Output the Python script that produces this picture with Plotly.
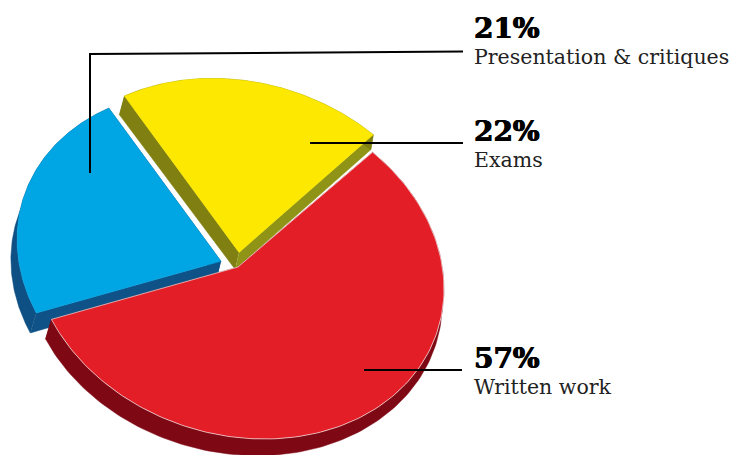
import numpy as np
import plotly.graph_objects as go

# Data
categories = ["Written work", "Presentation & critiques", "Exams"]
labelled_percent = [57, 21, 22]
drawn_share = [56.7, 22.7, 20.4]   # share of the ellipse each slice actually occupies
pull = [0.0, 0.086, 0.086]
radius_scale = [1.0, 0.99, 1.012]

top_colors = ["#e31e26", "#00a5e3", "#fce800"]
arc_side = ["#7e0814", "#0e5083", "#7f8011"]
start_edge_side = ["#7d0613", "#0f5288", "#7f8011"]
end_edge_side = ["#6e0510", "#0f5288", "#8f9416"]
top_outline = ["rgba(255,255,255,0.8)", None, None]

CENTER = np.array([238.0, 267.0])
RX, SHEAR, RY = 206.0, 22.0, 170.6
START_DEG = -49.2


def to_screen(t):
    return RX * np.cos(t), SHEAR * np.cos(t) + RY * np.sin(t)


def depth(x):
    x = np.asarray(x, dtype=float)
    return -6 + (x - 30) * 3.5 / 343, 20 - (x - 30) * 5 / 343


def face(xs, ys, color, line=None, width=0):
    return go.Scatter(x=xs, y=ys, mode="lines", fill="toself", fillcolor=color,
                      line=dict(color=line or color, width=width if line else 0.5),
                      hoverinfo="skip", showlegend=False)


angles = np.deg2rad(START_DEG + np.cumsum([0] + drawn_share) * 3.6)
fig = go.Figure()
slices = []
for i in range(3):
    t0, t1 = angles[i], angles[i + 1]
    mid = (t0 + t1) / 2
    ox, oy = to_screen(mid)
    apex = CENTER + pull[i] * np.array([ox, oy])
    t = np.linspace(t0, t1, 160)
    ax, ay = to_screen(t)
    slices.append((apex[0] + radius_scale[i] * ax, apex[1] + radius_scale[i] * ay, apex))

for i in [2, 1, 0]:
    arcx, arcy, apex = slices[i]
    dax, day = depth(arcx)
    adx, ady = depth(apex[0])

    def edge(px, py):
        pdx, pdy = depth(px)
        return (np.array([apex[0], px, px + pdx, apex[0] + adx]),
                np.array([apex[1], py, py + pdy, apex[1] + ady]))

    ex, ey = edge(arcx[0], arcy[0])
    fig.add_trace(face(ex, ey, start_edge_side[i]))
    ex, ey = edge(arcx[-1], arcy[-1])
    fig.add_trace(face(ex, ey, end_edge_side[i]))
    fig.add_trace(face(np.r_[arcx, (arcx + dax)[::-1]], np.r_[arcy, (arcy + day)[::-1]], arc_side[i]))
    fig.add_trace(face(np.r_[apex[0], arcx, apex[0]], np.r_[apex[1], arcy, apex[1]],
                       top_colors[i], line=top_outline[i], width=0.8))

# Leader lines
leaders = [
    ([90, 90, 463], [173, 54, 51.5]),
    ([310, 463], [143, 143]),
    ([364, 462], [370, 370]),
]
for lx, ly in leaders:
    fig.add_trace(go.Scatter(x=lx, y=ly, mode="lines", line=dict(color="black", width=2),
                             hoverinfo="skip", showlegend=False))

# Labels
label_rows = [(1, 28, 57), (2, 131, 160), (0, 358, 387)]
anns = []
for idx, y_pct, y_name in label_rows:
    anns.append(dict(x=472, y=y_pct, text=f"<b>{labelled_percent[idx]}%</b>", showarrow=False,
                     xanchor="left", yanchor="middle", xref="x", yref="y",
                     font=dict(family="DejaVu Serif", size=28, color="black",
                               shadow="0.6px 0 0 black, -0.6px 0 0 black")))
    anns.append(dict(x=471.5, y=y_name, text=categories[idx], showarrow=False,
                     xanchor="left", yanchor="middle", xref="x", yref="y",
                     font=dict(family="DejaVu Serif", size=20.5, color="#222222")))

fig.update_layout(
    width=733, height=455, margin=dict(l=0, r=0, t=0, b=0),
    paper_bgcolor="white", plot_bgcolor="white", showlegend=False,
    xaxis=dict(range=[0, 733], visible=False, fixedrange=True),
    yaxis=dict(range=[455, 0], visible=False, fixedrange=True),
    annotations=anns,
)
fig.write_html("out.html", config=dict(displayModeBar=False),
               post_script="document.body.style.margin='0';document.body.style.overflow='hidden';")
